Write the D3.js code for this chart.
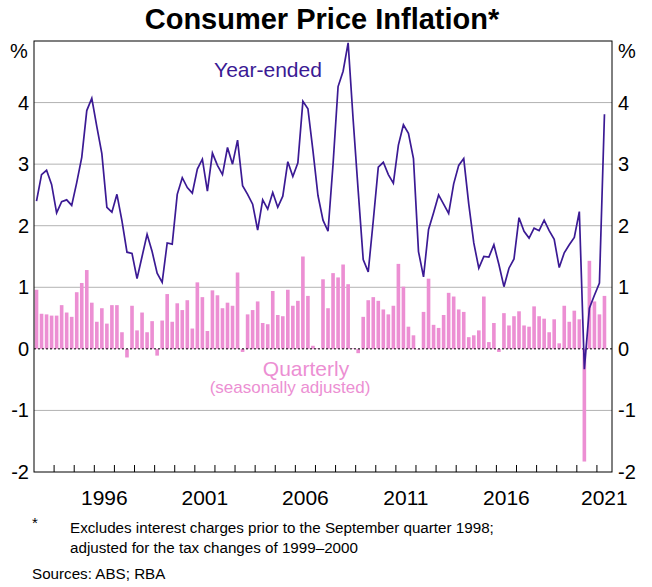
<!DOCTYPE html>
<html><head><meta charset="utf-8">
<script src="https://cdn.jsdelivr.net/npm/d3@7"></script>
<style>body{margin:0;background:#fff}text{font-family:"Liberation Sans",Arial,sans-serif}</style>
</head><body>
<script>
// quarterly, 1993 Q1 to 2021 Q2
var startYear = 1993
var yearEnded = [2.40,2.83,2.90,2.67,2.21,2.39,2.42,2.33,2.70,3.11,3.87,4.07,3.61,3.17,2.30,2.22,2.51,2.08,1.57,1.55,
  1.14,1.50,1.86,1.58,1.23,1.08,1.72,1.70,2.51,2.78,2.62,2.53,2.92,3.08,2.56,3.18,2.98,2.83,3.27,3.00,
  3.39,2.65,2.51,2.35,1.93,2.42,2.27,2.54,2.30,2.48,3.04,2.80,3.02,4.02,3.90,3.22,2.49,2.09,1.91,3.00,
  4.26,4.51,4.97,3.72,2.57,1.45,1.25,2.08,2.95,3.03,2.83,2.69,3.31,3.64,3.50,3.09,1.58,1.17,1.94,2.21,
  2.50,2.35,2.20,2.68,2.98,3.09,2.35,1.72,1.31,1.50,1.49,1.69,1.37,1.01,1.31,1.46,2.13,1.91,1.80,1.96,
  1.92,2.09,1.92,1.78,1.32,1.56,1.69,1.81,2.23,-0.33,0.66,0.87,1.07,3.81]
var quarterly = [0.96,0.57,0.56,0.54,0.54,0.71,0.59,0.52,0.92,1.07,1.28,0.75,0.44,0.66,0.41,0.71,0.71,0.27,-0.14,0.70,
  0.30,0.59,0.27,0.45,-0.11,0.46,0.89,0.44,0.74,0.63,0.79,0.33,1.08,0.84,0.29,0.95,0.87,0.66,0.75,0.70,
  1.24,-0.05,0.56,0.63,0.77,0.42,0.40,0.94,0.55,0.53,0.96,0.70,0.78,1.50,0.86,0.05,0.01,1.13,0.66,1.23,
  1.16,1.37,1.05,0.01,-0.07,0.52,0.79,0.84,0.78,0.64,0.56,0.70,1.38,1.01,0.36,0.22,-0.01,0.60,1.14,0.39,
  0.34,0.55,0.91,0.85,0.64,0.60,0.19,0.22,0.30,0.85,0.11,0.42,-0.05,0.58,0.38,0.53,0.61,0.38,0.36,0.69,
  0.53,0.49,0.27,0.48,0.09,0.70,0.44,0.62,0.48,-1.83,1.43,0.77,0.56,0.86]
var yTicks = [-2,-1,0,1,2,3,4]
var yearLabels = [1996,2001,2006,2011,2016,2021]

var W = 652, H = 587
var svg = d3.select('body').append('svg').attr('width', W).attr('height', H)
var x = d3.scaleLinear().domain([1993, 2021.75]).range([34, 612])
var y = d3.scaleLinear().domain([-2, 5]).range([472, 41])
var t = function(i){ return startYear + (i + 0.5) / 4 }
var qw = x(1993.25) - x(1993)

svg.append('text').attr('x', 322).attr('y', 29).attr('text-anchor','middle')
  .style('font-size','29px').style('font-weight','bold').text('Consumer Price Inflation*')

// gridlines
svg.selectAll('.grid').data(yTicks.filter(d => d != 0 && d != -2)).enter().append('line')
  .attr('x1', 34).attr('x2', 612).attr('y1', d => y(d)).attr('y2', d => y(d))
  .attr('stroke', '#b3b3b3').attr('stroke-width', 1)

// bars
svg.selectAll('.bar').data(quarterly).enter().append('rect')
  .attr('x', (d, i) => x(t(i)) - qw * 0.36)
  .attr('width', qw * 0.72)
  .attr('y', d => y(Math.max(0, d)))
  .attr('height', d => Math.abs(y(d) - y(0)))
  .style('fill', '#ec8fd3')

svg.append('line').attr('x1', 34).attr('x2', 612).attr('y1', y(0)).attr('y2', y(0))
  .attr('stroke', '#000').attr('stroke-width', 1).attr('stroke-dasharray', '2,2')

// line
svg.append('path').datum(yearEnded)
  .attr('fill', 'none').attr('stroke', '#3b1a94').attr('stroke-width', 1.7)
  .attr('d', d3.line().x((d, i) => x(t(i))).y(d => y(d)))

// frame
svg.append('rect').attr('x', 34).attr('y', 41).attr('width', 578).attr('height', 431)
  .attr('fill', 'none').attr('stroke', '#000').attr('stroke-width', 1)

// year ticks
svg.selectAll('.xt').data(d3.range(1994, 2022)).enter().append('line')
  .attr('x1', d => x(d)).attr('x2', d => x(d)).attr('y1', 472).attr('y2', 465)
  .attr('stroke', '#000')

svg.selectAll('.xl').data(yearLabels).enter().append('text')
  .attr('x', d => d == 2021 ? x(2021.37) : x(d + 0.5)).attr('y', 505)
  .attr('text-anchor', 'middle').style('font-size', '21px').text(d => d)

// y labels both sides
svg.selectAll('.yl').data(yTicks).enter().append('text')
  .attr('x', 29).attr('y', d => y(d) + 7).attr('text-anchor', 'end')
  .style('font-size', '20px').text(d => d)
svg.selectAll('.yr').data(yTicks).enter().append('text')
  .attr('x', 618).attr('y', d => y(d) + 7).attr('text-anchor', 'start')
  .style('font-size', '20px').text(d => d)
svg.append('text').attr('x', 10).attr('y', 58).style('font-size', '20px').text('%')
svg.append('text').attr('x', 618).attr('y', 58).style('font-size', '20px').text('%')

// series labels
svg.append('text').attr('x', 268).attr('y', 77).attr('text-anchor', 'middle')
  .style('font-size', '21px').style('fill', '#3b1a94').text('Year-ended')
svg.append('text').attr('x', 306).attr('y', 376).attr('text-anchor', 'middle')
  .style('font-size', '21px').style('fill', '#ec8fd3').text('Quarterly')
svg.append('text').attr('x', 290).attr('y', 393).attr('text-anchor', 'middle')
  .style('font-size', '17px').style('fill', '#ec8fd3').text('(seasonally adjusted)')

// notes
svg.append('text').attr('x', 32).attr('y', 528).style('font-size', '15px').text('*')
svg.append('text').attr('x', 70).attr('y', 533).style('font-size', '15.2px')
  .text('Excludes interest charges prior to the September quarter 1998;')
svg.append('text').attr('x', 70).attr('y', 553).style('font-size', '15.2px')
  .text('adjusted for the tax changes of 1999–2000')
svg.append('text').attr('x', 32).attr('y', 579).style('font-size', '15.2px').text('Sources: ABS; RBA')
</script>
</body></html>
